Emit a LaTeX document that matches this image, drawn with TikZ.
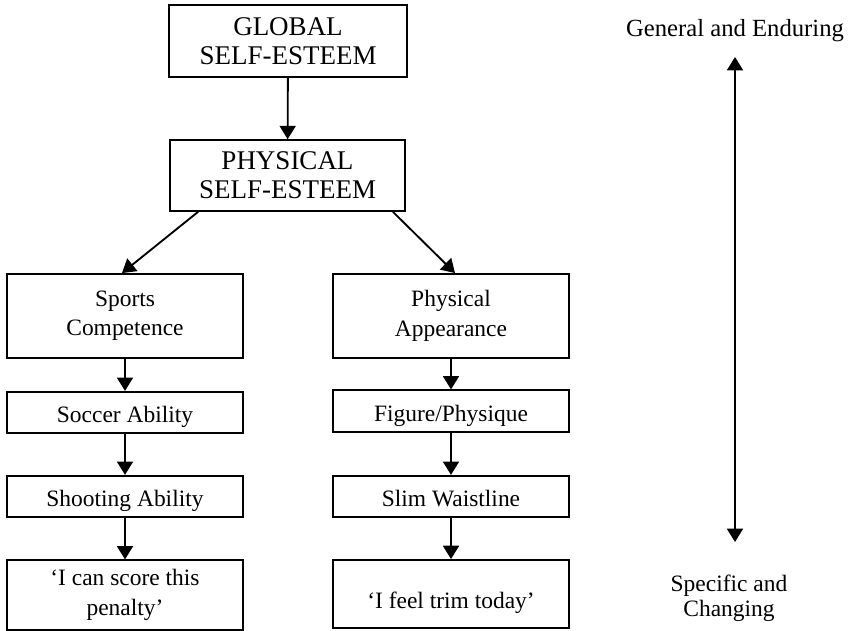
\documentclass[tikz,border=0pt]{standalone}
\usepackage{fontspec}
\setmainfont{Liberation Serif}
\usetikzlibrary{arrows.meta,positioning}

\tikzset{
  box/.style={draw, line width=1.4pt, inner sep=0pt, align=center, minimum width=177pt, font=\fontsize{17.6}{22}\selectfont},
  onebox/.style={box, minimum height=31pt, text height=15pt, text depth=0pt},
  bigbox/.style={box, font=\fontsize{20.25}{22}\selectfont},
  link/.style={->, line width=1.4pt},
  side/.style={align=center, font=\fontsize{17.6}{18.5}\selectfont},
}

\begin{document}
\begin{tikzpicture}[x=0.75pt, y=-0.75pt, >={Triangle[width=12pt,length=10pt]}]
    \useasboundingbox (0,0) rectangle (849,631);

    % Global and physical self-esteem
    \node[bigbox, minimum width=178pt, minimum height=54pt] (global) at (288,41) {GLOBAL\\SELF-ESTEEM};
    \node[bigbox, minimum width=176pt, minimum height=53pt] (physical) at (287.5,175.5) {PHYSICAL\\SELF-ESTEEM};

    % Sports branch
    \node[box, minimum height=63pt] (sports) at (125,316) {Sports\\Competence};
    \node[onebox] (soccer) at (125,412.5) {Soccer Ability};
    \node[onebox] (shooting) at (125,496.5) {Shooting Ability};
    \node[box, minimum height=52pt] (penalty) at (125,595) {`I can score this\\penalty'};

    % Appearance branch
    \node[box, minimum height=63pt] (appearance) at (451,316) {Physical\\Appearance};
    \node[onebox] (figure) at (451,411) {Figure/Physique};
    \node[onebox] (slim) at (451,496.5) {Slim Waistline};
    \node[onebox, minimum height=51pt, text height=21pt] (trim) at (451,594) {`I feel trim today'};

    % Links
    \draw[link] (global) -- (physical);
    \draw[link] ([xshift=-67pt]physical.south) -- ([xshift=-2.25pt]sports.north);
    \draw[link] ([xshift=79pt]physical.south) -- ([xshift=3pt]appearance.north);
    \draw[link] (sports) -- (soccer);
    \draw[link] (soccer) -- (shooting);
    \draw[link] (shooting) -- (penalty);
    \draw[link] (appearance) -- (figure);
    \draw[link] (figure) -- (slim);
    \draw[link] (slim) -- (trim);

    % Generality scale
    \node[side, font=\fontsize{18.5}{19}\selectfont] (general) at (735,31) {General and Enduring};
    \node[side] (specific) at (729,598) {Specific and\\Changing};
    \coordinate (hiend) at (735,57);
    \coordinate (loend) at (735,542);
    \draw[<->, line width=1.4pt] (hiend) -- (loend);
\end{tikzpicture}
\end{document}
